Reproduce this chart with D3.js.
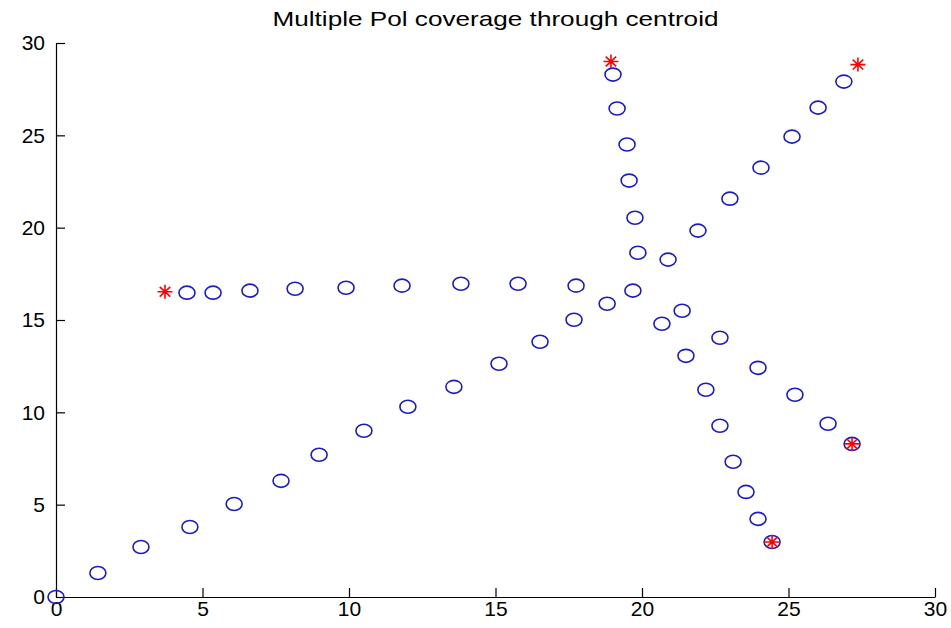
<!DOCTYPE html>
<html>
<head>
<meta charset="utf-8">
<script src="https://cdn.jsdelivr.net/npm/d3@7"></script>
<style>
  html, body { margin: 0; padding: 0; background: #fff; }
  svg { display: block; }
  .axis text { font-family: "Liberation Sans", Arial, sans-serif; font-size: 21px; fill: #000; }
  .axis path, .axis line { stroke: #000; stroke-width: 1.2; }
</style>
</head>
<body>
<svg id="chart" width="951" height="628"></svg>
<script>
// ---- Data ----
const chartTitle = "Multiple Pol coverage through centroid";
const xTicks = [0, 5, 10, 15, 20, 25, 30];
const yTicks = [0, 5, 10, 15, 20, 25, 30];

// Path from origin through the centroid to the upper-right end point
const pathDiagonal = [
  [0, 0], [1.43, 1.30], [2.90, 2.71], [4.57, 3.79], [6.08, 5.04], [7.68, 6.29],
  [8.98, 7.70], [10.51, 9.00], [12.01, 10.30], [13.58, 11.38], [15.12, 12.63],
  [16.52, 13.82], [17.68, 15.01], [18.81, 15.88], [19.69, 16.59], [20.89, 18.27],
  [21.91, 19.84], [23.00, 21.57], [24.06, 23.25], [25.12, 24.93], [26.01, 26.50],
  [26.89, 27.91]
];
// Horizontal run from the left end point towards the centroid
const pathHorizontal = [
  [4.47, 16.48], [5.36, 16.48], [6.62, 16.59], [8.16, 16.69], [9.90, 16.75],
  [11.81, 16.86], [13.82, 16.96], [15.77, 16.96], [17.75, 16.86]
];
// Near-vertical run from the top end point down to the centroid
const pathVertical = [
  [19.01, 28.29], [19.15, 26.45], [19.49, 24.50], [19.56, 22.55], [19.76, 20.54],
  [19.86, 18.64]
];
// Steep run from the centroid down to the bottom end point
const pathSteep = [
  [20.68, 14.80], [21.50, 13.06], [22.18, 11.22], [22.66, 9.27], [23.11, 7.32],
  [23.55, 5.69], [23.96, 4.23], [24.44, 2.98]
];
// Shallow run from the centroid down to the right end point
const pathShallow = [
  [21.37, 15.50], [22.66, 14.04], [23.96, 12.41], [25.22, 10.95], [26.35, 9.38],
  [27.17, 8.29]
];
// End points (red stars)
const endPoints = [
  [18.94, 29.00], [27.37, 28.83], [3.72, 16.53], [27.17, 8.29], [24.44, 2.98]
];

// ---- Chart ----
const svg = d3.select("#chart");
const W = 951, H = 628;
svg.append("rect").attr("width", W).attr("height", H).attr("fill", "#fff");

const x = d3.scaleLinear().domain([0, 30]).range([56, 935]);
const y = d3.scaleLinear().domain([0, 30]).range([597, 43]);

svg.append("g")
  .attr("class", "axis")
  .attr("transform", `translate(0,${y(0)})`)
  .call(d3.axisBottom(x).tickValues(xTicks).tickFormat(d3.format("d"))
        .tickSizeInner(-9).tickSizeOuter(0).tickPadding(4));

svg.append("g")
  .attr("class", "axis")
  .attr("transform", `translate(${x(0)},0)`)
  .call(d3.axisLeft(y).tickValues(yTicks).tickFormat(d3.format("d"))
        .tickSizeInner(-9).tickSizeOuter(0).tickPadding(11));

svg.append("text")
  .attr("x", (x(0) + x(30)) / 2)
  .attr("y", 26)
  .attr("text-anchor", "middle")
  .attr("font-family", "Liberation Sans, Arial, sans-serif")
  .attr("font-size", 21)
  .attr("textLength", 446)
  .attr("lengthAdjust", "spacingAndGlyphs")
  .attr("fill", "#000")
  .text(chartTitle);

const circles = [].concat(pathDiagonal, pathHorizontal, pathVertical, pathSteep, pathShallow);
svg.append("g").selectAll("ellipse")
  .data(circles)
  .join("ellipse")
  .attr("cx", d => x(d[0]))
  .attr("cy", d => y(d[1]))
  .attr("rx", 8)
  .attr("ry", 6.5)
  .attr("fill", "none")
  .attr("stroke", "#1c1cc0")
  .attr("stroke-width", 1.6);

const star = d3.path();
const sx = 7.5, sy = 7;
star.moveTo(-sx, 0); star.lineTo(sx, 0);
star.moveTo(0, -sy); star.lineTo(0, sy);
star.moveTo(-sx * 0.7, -sy * 0.7); star.lineTo(sx * 0.7, sy * 0.7);
star.moveTo(-sx * 0.7, sy * 0.7); star.lineTo(sx * 0.7, -sy * 0.7);

svg.append("g").selectAll("path")
  .data(endPoints)
  .join("path")
  .attr("transform", d => `translate(${x(d[0])},${y(d[1])})`)
  .attr("d", star.toString())
  .attr("fill", "none")
  .attr("stroke", "#ff0000")
  .attr("stroke-width", 1.6);
</script>
</body>
</html>
